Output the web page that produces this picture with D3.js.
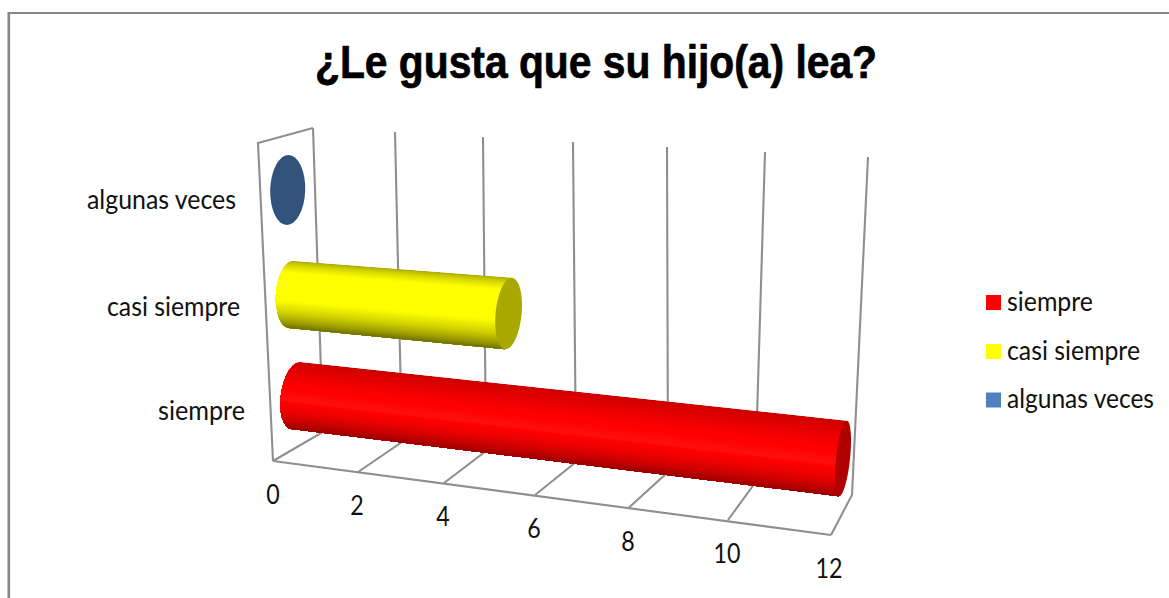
<!DOCTYPE html>
<html><head><meta charset="utf-8">
<script src="https://cdn.jsdelivr.net/npm/d3@7"></script>
<style>html,body{margin:0;padding:0;background:#fff}svg{display:block}text{font-family:Lato,"Open Sans",sans-serif;fill:#111}.ttl{font-family:"Liberation Sans",sans-serif;fill:#000;stroke:#000;stroke-width:.7}</style>
</head><body><script>
const titleText = "¿Le gusta que su hijo(a) lea?";
const categories = ["siempre","casi siempre","algunas veces"];
const values = [12,5,0];
const tickValues = [0,2,4,6,8,10,12];
const barColors = ["#ff0000","#ffff00","#4f81bd"];
const capColors = ["#b00000","#a8a800","#31527a"];
const shadeColors = ["#8e0000","#707000","#31527a"];

const W=1169,H=598;
const svg=d3.select("body").append("svg").attr("width",W).attr("height",H);
const defs=svg.append("defs");

// frame
const frame=svg.append("g").attr("fill","none").attr("stroke","#868686");
frame.append("path").attr("d",d3.line()([[8.8,598],[8.8,13]])).attr("stroke-width",2.6);
frame.append("path").attr("d",d3.line()([[7.5,13],[1169,13]])).attr("stroke-width",2);

// perspective scales for the value axis
const fx=d3.scaleLinear().domain(tickValues).range([273,358,444,535,629,728,831]);
const fy=d3.scaleLinear().domain(tickValues).range([461,472,483,495,507.5,520,535]);
const bx=d3.scaleLinear().domain(tickValues).range([323,402,486,576,668,755,852]);
const by=d3.scaleLinear().domain(tickValues).range([432,442,451,462,472,483,495]);
const tx=d3.scaleLinear().domain(tickValues).range([313,395,483,573,667,765,868]);
const ty=d3.scaleLinear().domain(tickValues).range([128,132,137,142,147,152,157]);
const t=v=>(fx(v)-fx(0))/(fx(12)-fx(0));

const grid=svg.append("g").attr("fill","none").attr("stroke","#8f8f8f").attr("stroke-width",2.1);
tickValues.forEach(v=>{
  grid.append("path").attr("d",d3.line()([[fx(v),fy(v)],[bx(v),by(v)],[tx(v),ty(v)]]));
});
grid.append("path").attr("d",d3.line()([[fx(0),fy(0)],[fx(12),fy(12)]]));
grid.append("path").attr("d",d3.line()([[fx(0),fy(0)],[258,143],[tx(0),ty(0)]]));

// category rows
const leftX=d3.scaleOrdinal(categories,[296,291.5,287.7]);
const leftY=d3.scaleOrdinal(categories,[395.5,294.5,190]);
const rightX=d3.scaleOrdinal(categories,[843,851,851]);
const rightY=d3.scaleOrdinal(categories,[458.5,343.5,225]);
const leftR=d3.scaleOrdinal(categories,[[15,33.8,8.5],[15.5,33.7,4.3],[17.5,35,1.6]]);
const rightR=d3.scaleOrdinal(categories,[[7,38,6],[13,36,5.6],[17.5,35,1.6]]);
// brightness profile across a cylinder, top edge to bottom edge
const profiles=[
  [[0,.55],[.12,.72],[.35,.98],[.58,1.06],[.76,.82],[.9,.48],[1,.12]],
  [[0,.4],[.07,.72],[.18,1],[.6,1],[.78,.68],[.92,.3],[1,0]]
];

const bars=svg.append("g");
categories.forEach((c,i)=>{
  const v=values[i], k=t(v);
  const cx=leftX(c)+(rightX(c)-leftX(c))*k, cy=leftY(c)+(rightY(c)-leftY(c))*k;
  const [lrx,lry,lrot]=leftR(c), [rrx,rry,rrot]=rightR(c);
  const ex=v===0?lrx:rrx, ey=v===0?lry:rry, er=v===0?lrot:rrot;
  if(v>0){
    const up=(x,y,r,a)=>[x+r*Math.sin(a*Math.PI/180),y-r*Math.cos(a*Math.PI/180)];
    const dn=(x,y,r,a)=>[x-r*Math.sin(a*Math.PI/180),y+r*Math.cos(a*Math.PI/180)];
    const lt=up(leftX(c),leftY(c),lry,lrot), lb=dn(leftX(c),leftY(c),lry,lrot);
    const rt=up(cx,cy,ey,er), rb=dn(cx,cy,ey,er);
    defs.append("clipPath").attr("id","c"+i).append("path")
      .attr("d",`M${lt}L${rt}L${rb}L${lb}A${lrx} ${lry} ${lrot} 0 1 ${lt}Z`);
    const body=bars.append("g").attr("clip-path",`url(#c${i})`);
    const pr=profiles[i];
    const bright=d3.scaleLinear().domain(pr.map(d=>d[0])).range(pr.map(d=>d[1]));
    const shade=s=>{
      const b=bright(s);
      return b<=1?d3.interpolateRgb(shadeColors[i],barColors[i])(b)
                 :d3.interpolateRgb(barColors[i],"#ffffff")((b-1));
    };
    const ext=30/(rt[0]-lt[0]);
    const pts=(a,b,e)=>[a[0]+(b[0]-a[0])*e,a[1]+(b[1]-a[1])*e];
    const N=70;
    d3.range(N).forEach(n=>{
      const s=n/N;
      const L1=pts(lt,lb,s), R1=pts(rt,rb,s);
      const a=pts(L1,R1,-ext), b=pts(L1,R1,1.02);
      const a2=pts(lb,rb,-ext), b2=pts(lb,rb,1.02);
      const a3=[a2[0],a2[1]+3], b3=[b2[0],b2[1]+3];
      body.append("path").attr("fill",shade((n+.5)/N)).attr("d",d3.line()([a,b,b3,a3])+"Z");
    });
  }
  bars.append("ellipse").attr("rx",ex).attr("ry",ey).attr("fill",capColors[i])
    .attr("transform",`translate(${cx},${cy}) rotate(${er})`);
});

function fit(sel,len){return sel.attr("textLength",len).attr("lengthAdjust","spacingAndGlyphs");}

// axis labels
const labels=svg.append("g").attr("font-size",26);
const tickLabelOffset=d3.scaleOrdinal(tickValues,[0,-1,-1,-1,-1,-1,-2]);
tickValues.forEach(v=>{
  fit(labels.append("text").attr("x",fx(v)+tickLabelOffset(v)).attr("y",fy(v)+43).attr("text-anchor","middle").text(v),String(v).length*13.5);
});
const catLabelX=d3.scaleOrdinal(categories,[158,107,87]);
const catLabelY=d3.scaleOrdinal(categories,[420,315.5,208.5]);
const labelLen=d3.scaleOrdinal(categories,[87,133,149]);
categories.forEach(c=>fit(labels.append("text").attr("x",catLabelX(c)).attr("y",catLabelY(c)).text(c),labelLen(c)));

// title
fit(svg.append("text").attr("class","ttl").attr("x",315).attr("y",78).attr("font-size",47).attr("font-weight","bold").text(titleText),562);

// legend
const legY=d3.scaleOrdinal(categories,[302.5,351.5,400]);
const legLen=d3.scaleOrdinal(categories,[86,133,147]);
const leg=svg.append("g");
categories.forEach((c,i)=>{
  leg.append("rect").attr("x",986).attr("y",legY(c)-7.5).attr("width",15).attr("height",15).attr("fill",barColors[i]);
  fit(leg.append("text").attr("x",1007).attr("y",legY(c)+8).attr("font-size",26).text(c),legLen(c));
});
</script></body></html>
